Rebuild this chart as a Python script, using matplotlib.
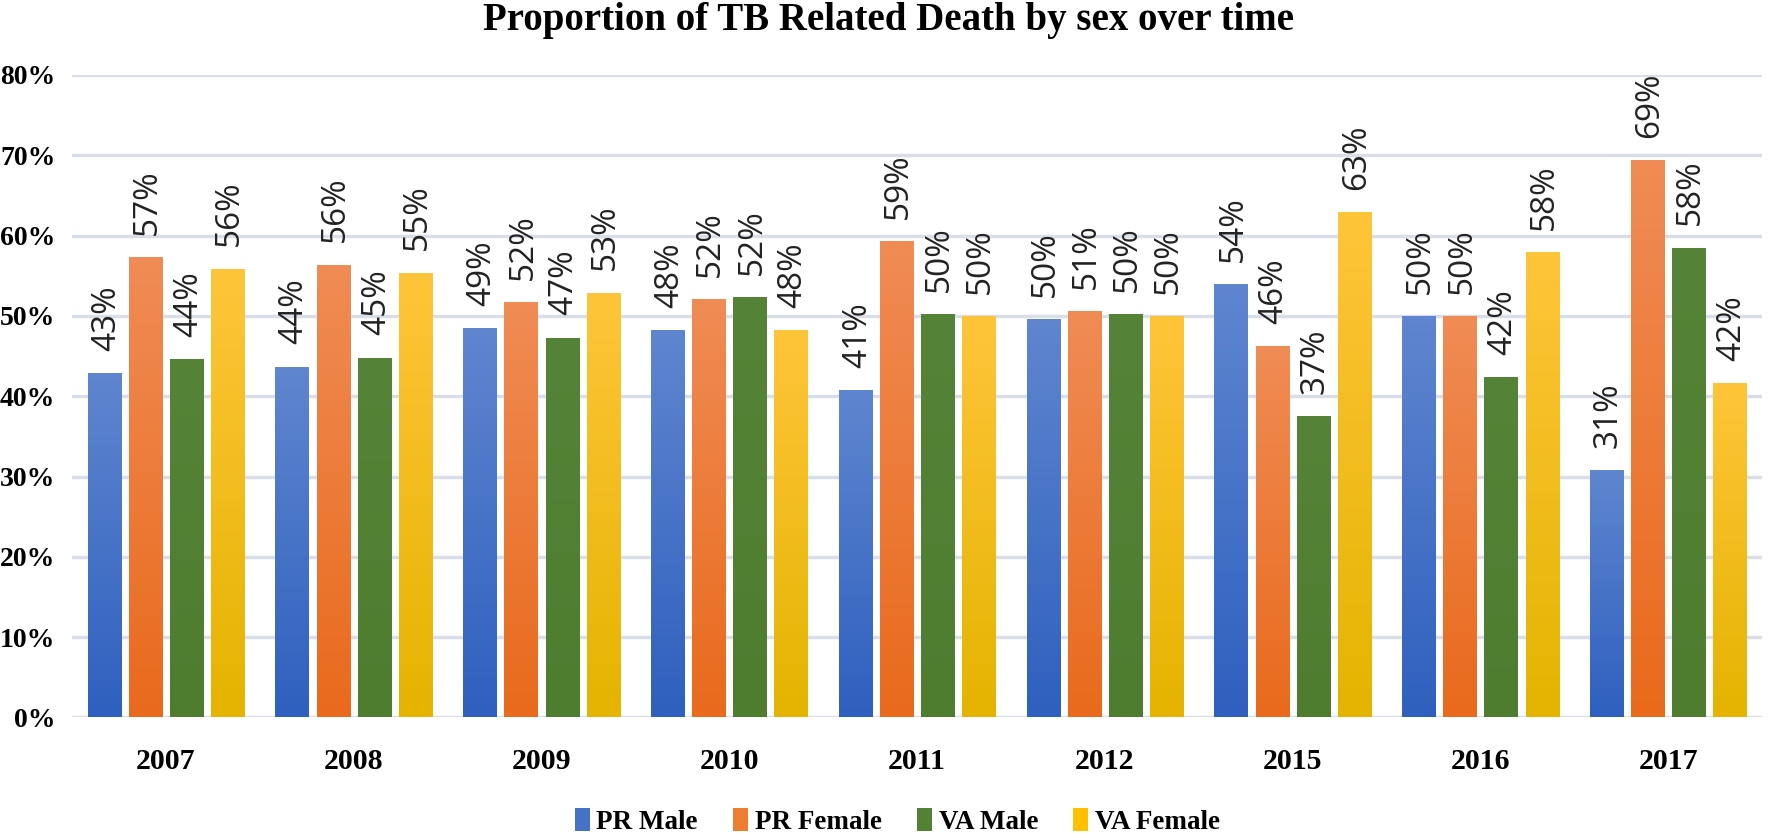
# -*- coding: utf-8 -*-
# Proportion of TB related death by sex over time (grouped bar chart)

import numpy as np
from matplotlib import pyplot as plt
from matplotlib import colors as mcolors

# Data
years = ["2007", "2008", "2009", "2010", "2011", "2012", "2015", "2016", "2017"]
pr_male = [42.9, 43.7, 48.5, 48.2, 40.8, 49.6, 54.0, 50.0, 30.8]
pr_female = [57.3, 56.4, 51.7, 52.1, 59.3, 50.6, 46.2, 50.0, 69.4]
va_male = [44.6, 44.8, 47.3, 52.3, 50.2, 50.2, 37.5, 42.4, 58.5]
va_female = [55.9, 55.4, 52.9, 48.2, 50.0, 50.0, 62.9, 57.9, 41.6]
labels_pr_male = ["43%", "44%", "49%", "48%", "41%", "50%", "54%", "50%", "31%"]
labels_pr_female = ["57%", "56%", "52%", "52%", "59%", "51%", "46%", "50%", "69%"]
labels_va_male = ["44%", "45%", "47%", "52%", "50%", "50%", "37%", "42%", "58%"]
labels_va_female = ["56%", "55%", "53%", "48%", "50%", "50%", "63%", "58%", "42%"]
series_names = ["PR Male", "PR Female", "VA Male", "VA Female"]

# (top colour, bottom colour) of the gradient fill
grad_cols = [("#5f86cf", "#2f60bf"),
             ("#f08c55", "#e96a1c"),
             ("#558337", "#4f7d30"),
             ("#ffc53a", "#e4b400")]
legend_cols = ["#4472c4", "#ed7d31", "#548235", "#ffc000"]

serif = "Liberation Serif"
figxlen = 17.7
figylen = 8.33

fig = plt.figure(figsize=(figxlen, figylen), dpi=100)
ax = fig.add_axes([0.0407, 0.1387, 0.9548, 0.7713])

x = np.arange(len(years))
width = 0.176
step = 0.219
all_vals = [pr_male, pr_female, va_male, va_female]
all_labels = [labels_pr_male, labels_pr_female, labels_va_male, labels_va_female]

ax.set_xlim(-0.5, len(years) - 0.5)
ax.set_ylim(0, 0.8)

for k, (vals, labs) in enumerate(zip(all_vals, all_labels)):
    vals = np.array(vals) / 100.
    xs = x + (k - 1.5) * step
    bars = ax.bar(xs, vals, width, color=legend_cols[k], label=series_names[k],
                  zorder=2, linewidth=0)
    cmap = mcolors.LinearSegmentedColormap.from_list(
        "g%d" % k, [grad_cols[k][1], grad_cols[k][0]])
    for b in bars:
        bx, by = b.get_x(), b.get_y()
        bw, bh = b.get_width(), b.get_height()
        grad = np.linspace(0, 1, 256).reshape(-1, 1)
        im = ax.imshow(grad, extent=[bx, bx + bw, by, by + bh], origin="lower",
                       aspect="auto", cmap=cmap, zorder=3)
        im.set_clip_path(b)
    for xi, v, lab in zip(xs, vals, labs):
        ax.annotate(lab, (xi, v), xytext=(1.5, 16), textcoords="offset points",
                    rotation=90, ha="center", va="bottom", fontsize=24,
                    family="Open Sans", color="#222222", zorder=4)

ax.set_xlim(-0.5, len(years) - 0.5)
ax.set_ylim(0, 0.8)

# Axes styling
ticks = np.arange(0, 0.81, 0.1)
ax.set_yticks(ticks)
ax.set_yticklabels(["{0:d}%".format(int(round(t * 100))) for t in ticks],
                   family=serif, fontweight="bold", fontsize=20)
ax.set_xticks(x)
ax.set_xticklabels(years, family=serif, fontweight="bold", fontsize=21.5)
ax.tick_params(axis="both", length=0)
ax.tick_params(axis="y", pad=12)
ax.tick_params(axis="x", pad=22)
ax.yaxis.grid(True, color="#d9dee8", linewidth=2.5, zorder=0)
ax.set_axisbelow(True)
for s in ax.spines.values():
    s.set_visible(False)

fig.text(0.502, 0.975, "Proportion of TB Related Death by sex over time",
         ha="center", va="center", family=serif, fontweight="bold", fontsize=28)

leg = fig.legend(loc="center", bbox_to_anchor=(0.507, 0.014), ncol=4,
                 frameon=False, handlelength=0.55, handleheight=0.9,
                 handletextpad=0.25, columnspacing=1.3,
                 prop={"family": serif, "weight": "bold", "size": 19.5})

fig.savefig("out.png", dpi=100)
#plt.show()
